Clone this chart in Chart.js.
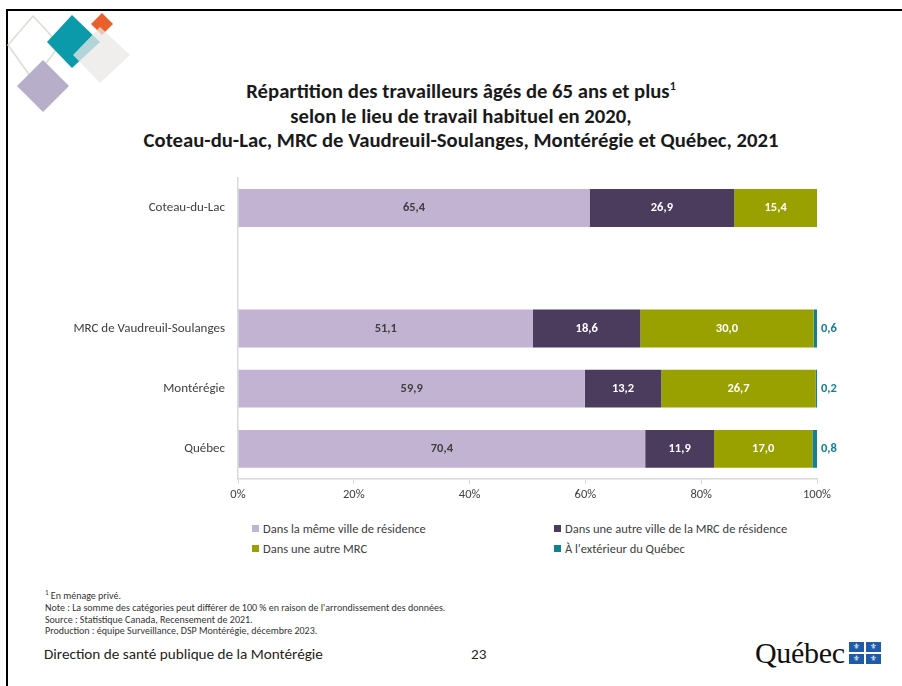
<!DOCTYPE html>
<html lang="fr">
<head>
<meta charset="utf-8">
<script src="https://cdn.jsdelivr.net/npm/chart.js@4"></script>
<style>
  html, body { margin: 0; padding: 0; background: #fff; }
  body { width: 902px; height: 686px; position: relative; overflow: hidden;
         font-family: Carlito, Lato, "Open Sans", sans-serif; color: #404040; }
  #frameTop { position: absolute; left: 6px; top: 9px; width: 896px; height: 2px; background: #000; }
  #frameLeft { position: absolute; left: 6px; top: 9px; width: 2px; height: 677px; background: #000; }
  #deco { position: absolute; left: 0; top: 0; }
  #title { position: absolute; left: 0; width: 922px; top: 79px; text-align: center;
           font-weight: bold; font-size: 20.7px; line-height: 24.5px; color: #1a1a1a; }
  #title sup { font-size: 12px; line-height: 0; }
  #chartBox { position: absolute; left: 40px; top: 165px; width: 830px; height: 341px; }
  #legend { position: absolute; left: 250px; top: 520px; display: grid;
            grid-template-columns: 302px 260px; row-gap: 4px; font-size: 12.5px; }
  #legend .item { display: flex; align-items: center; height: 16px; white-space: nowrap; }
  #legend .sw { width: 7px; height: 7px; margin: 0 4px 0 2px; }
  #notes { position: absolute; left: 45px; top: 587px; font-size: 10px; line-height: 11.7px; color: #333; }
  #notes sup { font-size: 7px; }
  #footer { position: absolute; left: 44px; top: 645px; font-size: 15.2px; color: #222; }
  #page { position: absolute; left: 471px; top: 645px; font-size: 15.2px; color: #222; }
  #qc { position: absolute; left: 755px; top: 636px; display: flex; align-items: center; }
  #qc .word { font-family: "Liberation Serif", serif; font-size: 30px; color: #111; letter-spacing: -0.3px; }
  #qc .flag { display: grid; grid-template-columns: 15px 15px; gap: 2px; margin-left: 4px; }
  #qc .flag span { width: 15px; height: 10px; background: #1d5da8; color: #fff; font-size: 8px;
                   line-height: 10px; text-align: center; font-family: "DejaVu Sans", sans-serif; }
</style>
</head>
<body>
<div id="frameTop"></div>
<div id="frameLeft"></div>
<svg id="deco" width="160" height="130">
  <polygon points="33,16 60,45 33,80 8,45" fill="none" stroke="#d9ddd2" stroke-width="1.5"/>
  <polygon points="72,15 100,42 72,68 47,42" fill="#0a9aaa"/>
  <polygon points="102,13 113,24 102,35 91,24" fill="#e8612c"/>
  <polygon points="100,27 130,55 100,83 73,55" fill="#ebe8e6" fill-opacity="0.75"/>
  <polygon points="43,60 69,86 43,112 17,86" fill="#b7afc9"/>
</svg>

<div id="title">Répartition des travailleurs âgés de 65 ans et plus<sup>1</sup><br>
selon le lieu de travail habituel en 2020,<br>
Coteau-du-Lac, MRC de Vaudreuil-Soulanges, Montérégie et Québec, 2021</div>

<div id="chartBox"><canvas id="chart" width="830" height="341"></canvas></div>

<div id="legend"></div>

<div id="notes">
  <sup>1</sup> En ménage privé.<br>
  Note : La somme des catégories peut différer de 100 % en raison de l'arrondissement des données.<br>
  Source : Statistique Canada, Recensement de 2021.<br>
  Production : équipe Surveillance, DSP Montérégie, décembre 2023.
</div>

<div id="footer">Direction de santé publique de la Montérégie</div>
<div id="page">23</div>
<div id="qc"><span class="word">Québec</span>
  <span class="flag"><span>⚜</span><span>⚜</span><span>⚜</span><span>⚜</span></span></div>

<script>
const categories = ["Coteau-du-Lac", "", "MRC de Vaudreuil-Soulanges", "Montérégie", "Québec"];
const seriesNames = [
  "Dans la même ville de résidence",
  "Dans une autre ville de la MRC de résidence",
  "Dans une autre MRC",
  "À l'extérieur du Québec"
];
const sameCity     = [65.4, null, 51.1, 59.9, 70.4];
const otherCityMrc = [26.9, null, 18.6, 13.2, 11.9];
const otherMrc     = [15.4, null, 30.0, 26.7, 17.0];
const outsideQc    = [null, null, 0.6, 0.2, 0.8];
const xTicks = [0, 20, 40, 60, 80, 100];

const colors = ["#c3b3d3", "#4b3c5e", "#98a100", "#11808f"];
const labelColors = ["#404040", "#ffffff", "#ffffff", "#11808f"];
const allSeries = [sameCity, otherCityMrc, otherMrc, outsideQc];

// bars are drawn as share of the row total (Coteau-du-Lac sums to more than 100)
const rowTotals = categories.map((c, i) =>
  allSeries.reduce((s, arr) => s + (arr[i] || 0), 0));

const fmt = v => v.toFixed(1).replace(".", ",");

// legend in 2 columns, like the original
const legend = document.getElementById("legend");
seriesNames.forEach((name, i) => {
  const item = document.createElement("div");
  item.className = "item";
  item.innerHTML = '<span class="sw" style="background:' + colors[i] + '"></span>' + name;
  legend.appendChild(item);
});

const valueLabels = {
  id: "valueLabels",
  afterDatasetsDraw(chart) {
    const ctx = chart.ctx;
    ctx.save();
    ctx.font = "bold 12.5px Carlito, Lato, sans-serif";
    ctx.textBaseline = "middle";
    chart.data.datasets.forEach((ds, d) => {
      chart.getDatasetMeta(d).data.forEach((bar, i) => {
        const v = ds.rawValues[i];
        if (v == null) return;
        ctx.fillStyle = labelColors[d];
        if (d === 3) {
          ctx.textAlign = "left";
          ctx.fillText(fmt(v), bar.x + 4, bar.y);
        } else {
          ctx.textAlign = "center";
          ctx.fillText(fmt(v), (bar.x + bar.base) / 2, bar.y);
        }
      });
    });
    ctx.restore();
  }
};

new Chart(document.getElementById("chart"), {
  type: "bar",
  data: {
    labels: categories,
    datasets: allSeries.map((arr, d) => ({
      label: seriesNames[d],
      data: arr.map((v, i) => v == null ? null : v / rowTotals[i] * 100),
      rawValues: arr,
      backgroundColor: colors[d],
      borderWidth: 0,
      barPercentage: 0.63,
      categoryPercentage: 1
    }))
  },
  options: {
    indexAxis: "y",
    responsive: false,
    animation: false,
    layout: { padding: { top: 8, right: 53, left: 0, bottom: 0 } },
    plugins: {
      legend: { display: false },
      tooltip: { enabled: false },
      title: { display: false }
    },
    scales: {
      x: {
        stacked: true,
        min: 0,
        max: 100,
        afterBuildTicks: scale => { scale.ticks = xTicks.map(v => ({ value: v })); },
        ticks: {
          callback: v => v + "%",
          color: "#404040",
          font: { family: "Carlito, Lato, sans-serif", size: 12.5 },
          maxRotation: 0,
          padding: 3
        },
        grid: { drawOnChartArea: false, drawTicks: true, tickLength: 5, color: "#d9d9d9" },
        border: { color: "#d9d9d9", width: 1.5 },
        afterFit: scale => { scale.height = 27; }
      },
      y: {
        stacked: true,
        ticks: {
          color: "#404040",
          font: { family: "Carlito, Lato, sans-serif", size: 13 },
          padding: 5
        },
        grid: { display: false },
        border: { color: "#d9d9d9", width: 1.5 },
        afterFit: scale => { scale.width = 198; }
      }
    }
  },
  plugins: [valueLabels]
});
</script>
</body>
</html>
